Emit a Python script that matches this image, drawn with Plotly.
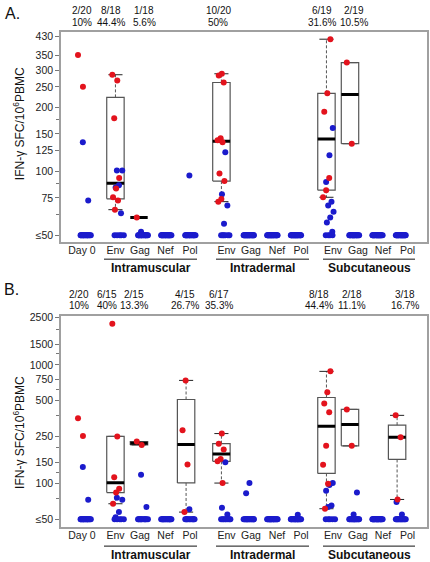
import numpy as np
import plotly.graph_objects as go

# ---------------- data ----------------
categories = ["Day 0", "Env", "Gag", "Nef", "Pol", "Env", "Gag", "Nef", "Pol", "Env", "Gag", "Nef", "Pol"]
routes = ["Intramuscular", "Intradermal", "Subcutaneous"]
has_box = [False] + [True] * 12   # Day 0 is shown without a box

# Panel A (responders = red, non-responders = blue; floor counts are values at <=50)
A_red = [[353, 250], [285, 268, 178, 93, 83, 75.5, 73, 66], [60.7], [], [],
         [288, 283, 262, 143, 140, 137, 97.6, 90, 74, 72], [], [], [],
         [419, 233, 191, 93, 81.5, 75.5], [325, 135], [], []]
A_blue_above = [[137, 73], [101, 101, 86, 84, 63.5], [52], [], [95.6],
                [123, 78, 69, 56.7], [], [], [],
                [160, 119, 89, 72, 69, 64.5, 60.7, 57.5, 52], [], [], []]
A_blue_floor = [16, 5, 16, 18, 17, 6, 20, 20, 20, 4, 17, 19, 19]
A_head_top = ["2/20", "8/18", "1/18", "10/20", "6/19", "2/19"]
A_head_pct = ["10%", "44.4%", "5.6%", "50%", "31.6%", "10.5%"]
A_yticks = [50, 75, 100, 125, 150, 200, 250, 300, 350, 430]
A_yticktext = ["≤50", "75", "100", "125", "150", "200", "250", "300", "350", "430"]
A_yminor = [62.5, 87.5, 175]

# Panel B
B_red = [[355, 252], [2225, 250, 113, 90.6, 84, 67.6], [226, 212], [], [741, 282, 145, 57.5],
         [264, 217, 194, 161, 154, 101], [], [], [],
         [883, 589, 474, 400, 208, 144, 99.6, 61.4], [422, 208], [], [376, 246, 73.5]]
B_blue_above = [[138, 73], [76, 73, 57.5, 52], [119, 63.4], [], [60.8],
                [151, 62.6, 55], [101, 83], [], [54.6],
                [101, 97.5, 87, 65.5, 63.5], [84, 55], [], [70, 55]]
B_blue_floor = [16, 5, 11, 15, 10, 8, 15, 17, 16, 5, 14, 18, 13]
B_head_top = ["2/20", "6/15", "2/15", "4/15", "6/17", "8/18", "2/18", "3/18"]
B_head_pct = ["10%", "40%", "13.3%", "26.7%", "35.3%", "44.4%", "11.1%", "16.7%"]
B_yticks = [50, 100, 150, 250, 500, 750, 1000, 1500, 2500]
B_yticktext = ["≤50", "100", "150", "250", "500", "750", "1000", "1500", "2500"]
B_yminor = [75, 125, 200, 375, 625, 1250, 2000]

# ---------------- layout constants ----------------
W, H = 430, 562
FONT = "Liberation Sans, Arial, sans-serif"
RED = "#e3131d"
BLUE = "#1b1bcc"
PXU = 23.55          # px per slot
X0 = 82              # px of slot 0
def u(px):
    return (px - X0) / PXU
def yp(py):
    return 1 - py / H

data_x = [0, 1.42, 2.42, 3.42, 4.42, 5.92, 6.92, 7.92, 8.92, 10.38, 11.38, 12.38, 13.38]
label_px = [82, 115.5, 140, 165.5, 190, 226.5, 251, 277, 301, 333, 358, 383, 407.5]
A_head_px = [81.5, 111, 144, 218.5, 321.5, 354]
B_head_px = [79, 106.8, 134, 185, 219, 318.7, 351.5, 404.5]
group_line_px = [(104, 197), (216, 309), (323, 415)]
group_label_px = [150.5, 262.5, 369]

BOXW = 0.74
CAPW = 0.6


def spread(n, lo, hi, seed):
    g = 0.6180339887
    return [lo + (hi - lo) * ((seed + i * g) % 1.0) for i in range(n)]


def fivenum(x):
    x = sorted(x)
    n = len(x)
    n4 = np.floor((n + 3) / 2) / 2
    d = [1, n4, (n + 1) / 2, n + 1 - n4, n]
    return [0.5 * (x[int(np.floor(di)) - 1] + x[int(np.ceil(di)) - 1]) for di in d]


fig = go.Figure()


def add_panel(red, blue_above, blue_floor, xa, ya):
    bx, by, mx, my, wx, wy, cx, cy = [], [], [], [], [], [], [], []
    for i, vals in enumerate(red):
        c = data_x[i]
        if len(vals) == 0 or not has_box[i]:
            continue
        if len(vals) == 1:
            mx += [c - BOXW / 2, c + BOXW / 2, None]
            my += [vals[0], vals[0], None]
            continue
        mn, q1, med, q3, mxv = fivenum(vals)
        iqr = q3 - q1
        lo = min(v for v in vals if v >= q1 - 1.5 * iqr)
        hi = max(v for v in vals if v <= q3 + 1.5 * iqr)
        bx += [c - BOXW / 2, c + BOXW / 2, c + BOXW / 2, c - BOXW / 2, c - BOXW / 2, None]
        by += [q1, q1, q3, q3, q1, None]
        mx += [c - BOXW / 2, c + BOXW / 2, None]
        my += [med, med, None]
        wx += [c, c, None, c, c, None]
        wy += [q3, hi, None, q1, lo, None]
        cx += [c - CAPW / 2, c + CAPW / 2, None, c - CAPW / 2, c + CAPW / 2, None]
        cy += [hi, hi, None, lo, lo, None]
    common = dict(xaxis=xa, yaxis=ya, mode="lines", hoverinfo="skip", showlegend=False)
    fig.add_trace(go.Scatter(x=wx, y=wy, line=dict(color="#555555", width=1, dash="3px,2px"), **common))
    fig.add_trace(go.Scatter(x=cx, y=cy, line=dict(color="#222222", width=1), **common))
    fig.add_trace(go.Scatter(x=bx, y=by, line=dict(color="#555555", width=1.2), **common))
    fig.add_trace(go.Scatter(x=mx, y=my, line=dict(color="#000000", width=3), **common))

    # points
    rx, ry, qx, qy = [], [], [], []
    for i in range(len(categories)):
        c = data_x[i]
        r = sorted(red[i], reverse=True)
        rx += [c + o for o in spread(len(r), -0.17, 0.17, 0.11 * i)]
        ry += r
        b = sorted(blue_above[i], reverse=True)
        qx += [c + o for o in spread(len(b), -0.05, 0.32, 0.23 + 0.07 * i)]
        qy += b
        f = [50] * blue_floor[i]
        qx += [c + o for o in spread(len(f), -0.06, 0.40, 0.05 * i)]
        qy += f
    fig.add_trace(go.Scatter(x=qx, y=qy, mode="markers", xaxis=xa, yaxis=ya, showlegend=False,
                             marker=dict(color=BLUE, size=6, line=dict(width=0))))
    fig.add_trace(go.Scatter(x=rx, y=ry, mode="markers", xaxis=xa, yaxis=ya, showlegend=False,
                             marker=dict(color=RED, size=6, line=dict(width=0))))


add_panel(A_red, A_blue_above, A_blue_floor, "x", "y")
add_panel(B_red, B_blue_above, B_blue_floor, "x2", "y2")

xdom = [61 / W, 427 / W]
xcommon = dict(range=[u(61), u(427)], showgrid=False, zeroline=False, showline=True, mirror=True,
               linecolor="#a0a0a0", linewidth=1.5, tickvals=[u(p) for p in label_px],
               ticktext=categories, ticks="", ticklabelstandoff=-3,
               tickfont=dict(family=FONT, size=10.5, color="#222"))
ycommon = dict(type="log", showgrid=False, zeroline=False, showline=True, mirror=True,
               linecolor="#a0a0a0", linewidth=1.5, ticks="outside", ticklen=4, tickcolor="#777",
               tickfont=dict(family=FONT, size=10.5, color="#222"))

fig.update_layout(
    width=W, height=H, margin=dict(l=0, r=0, t=0, b=0),
    paper_bgcolor="white", plot_bgcolor="white", showlegend=False,
    xaxis=dict(domain=xdom, anchor="y", **xcommon),
    xaxis2=dict(domain=xdom, anchor="y2", **xcommon),
    yaxis=dict(domain=[yp(240), yp(28)], anchor="x", range=[1.666, 2.657],
               tickvals=A_yticks, ticktext=A_yticktext,
               minor=dict(tickvals=A_yminor, ticks="outside", ticklen=3, tickcolor="#777", showgrid=False),
               **ycommon),
    yaxis2=dict(domain=[yp(527), yp(314)], anchor="x2", range=[1.632, 3.4146],
                tickvals=B_yticks, ticktext=B_yticktext,
                minor=dict(tickvals=B_yminor, ticks="outside", ticklen=3, tickcolor="#777", showgrid=False),
                **ycommon),
)

ann = []
shapes = []
# panel letters
ann.append(dict(text="A.", x=3 / W, y=yp(10), xanchor="left", yanchor="middle"))
ann.append(dict(text="B.", x=2 / W, y=yp(288), xanchor="left", yanchor="middle"))
for a in ann:
    a.update(xref="paper", yref="paper", showarrow=False, font=dict(family=FONT, size=16, color="#111"))

def add_text(text, px, py, size, bold=False, angle=0):
    ann.append(dict(text=("<b>%s</b>" % text) if bold else text, x=px / W, y=yp(py), xref="paper",
                    yref="paper", showarrow=False, xanchor="center", yanchor="middle", textangle=angle,
                    font=dict(family=FONT, size=size, color="#111")))

# headers
for t, p, px in zip(A_head_top, A_head_pct, A_head_px):
    add_text(t, px, 7, 10)
    add_text(p, px, 18.5, 10)
for t, p, px in zip(B_head_top, B_head_pct, B_head_px):
    add_text(t, px, 292.5, 10)
    add_text(p, px, 303.5, 10)

# y titles
add_text("IFN-γ SFC/10<sup>6</sup>PBMC", 19, 121, 12, angle=-90)
add_text("IFN-γ SFC/10<sup>6</sup>PBMC", 19, 432, 12, angle=-90)

# group labels and lines
for (x0, x1), lx, name in zip(group_line_px, group_label_px, routes):
    for ly, ty in [(257, 266), (546, 555)]:
        shapes.append(dict(type="line", xref="paper", yref="paper", x0=x0 / W, x1=x1 / W,
                           y0=yp(ly), y1=yp(ly), line=dict(color="#111", width=1)))
        add_text(name, lx, ty, 12, bold=True)

fig.update_layout(annotations=ann, shapes=shapes)
fig.write_html("out.html", config={"displayModeBar": False},
               post_script="document.body.style.margin='0';document.body.style.overflow='hidden';")
